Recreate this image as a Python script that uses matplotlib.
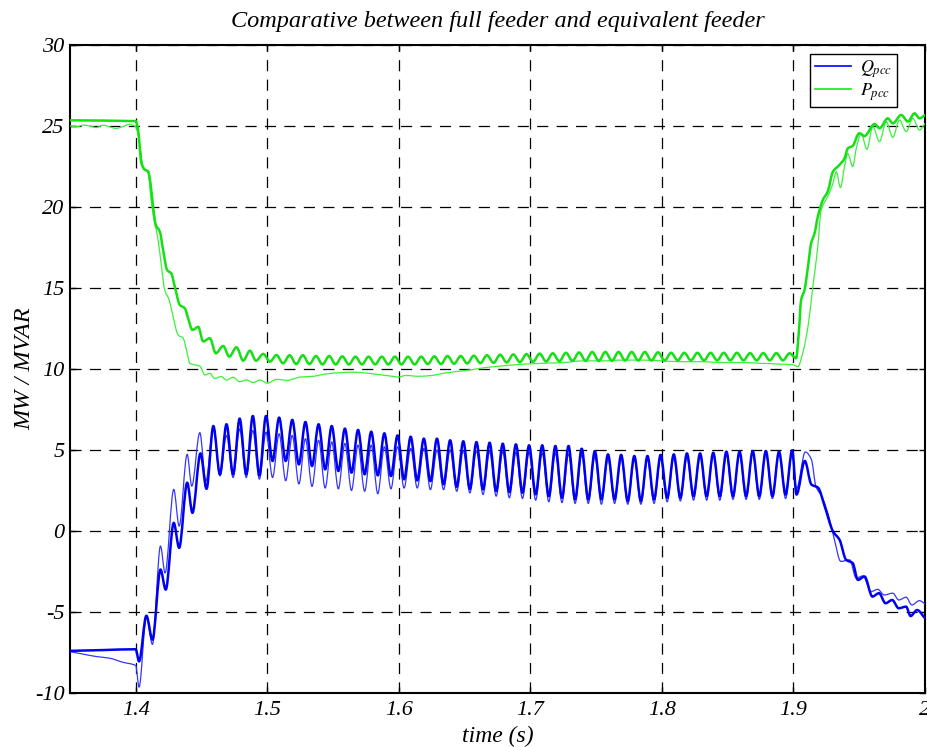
import numpy as np
import matplotlib
matplotlib.use("Agg")
import matplotlib.pyplot as plt
from matplotlib.path import Path
from matplotlib.patches import PathPatch
from matplotlib.lines import Line2D

plt.rcParams['font.family'] = ['Liberation Serif', 'DejaVu Serif']
plt.rcParams['font.style'] = 'italic'
plt.rcParams['mathtext.fontset'] = 'stix'
plt.rcParams['lines.scale_dashes'] = False
plt.rcParams['axes.unicode_minus'] = False

# ---- data (time in s, MW / MVAR) ----
# 100 Hz oscillation: peak / trough values per cycle
q_peak_t0 = 1.459
q_thick_peaks = [6.48, 6.59, 6.94, 7.10, 7.10, 7.00, 6.86, 6.73, 6.59, 6.48,
                 6.32, 6.24, 6.13, 6.03, 5.90, 5.82, 5.70, 5.70, 5.60, 5.54,
                 5.49, 5.45, 5.39, 5.35, 5.29, 5.29, 5.25, 5.25, 5.08, 4.94,
                 4.73, 4.70, 4.63, 4.63, 4.70, 4.73, 4.79, 4.79, 4.83, 4.90,
                 4.90, 4.94, 4.94, 4.90, 4.98]
q_thick_troughs = [3.50, 3.50, 3.50, 3.43, 4.32, 4.32, 4.11, 4.01, 3.80, 3.70,
                   3.60, 3.50, 3.43, 3.39, 3.19, 3.12, 3.08, 2.88, 2.73, 2.60,
                   2.57, 2.46, 2.40, 2.36, 2.26, 2.15, 2.05, 1.95, 1.95, 1.95,
                   1.95, 1.85, 1.85, 1.95, 2.05, 2.05, 2.15, 2.15, 2.15, 2.15,
                   2.15, 2.15, 2.15, 2.25]
q_thin_peaks = [6.40, 5.90, 6.30, 6.20, 6.10, 6.00, 5.90, 5.70, 5.60, 5.50,
                5.40, 5.30, 5.30, 5.20, 5.20, 5.10, 5.10, 5.00, 5.00, 4.95,
                4.95, 4.90, 4.90, 4.85, 4.85, 4.80, 4.80, 4.75, 4.70, 4.60,
                4.50, 4.50, 4.45, 4.45, 4.50, 4.55, 4.60, 4.65, 4.70, 4.75,
                4.80, 4.85, 4.85, 4.85, 4.90]
q_thin_troughs = [3.40, 3.30, 3.30, 3.20, 3.30, 3.10, 2.90, 2.75, 2.65, 2.60,
                  2.50, 2.45, 2.30, 2.60, 2.65, 2.65, 2.55, 2.55, 2.45, 2.35,
                  2.25, 2.15, 2.05, 2.00, 1.90, 1.80, 1.75, 1.70, 1.70, 1.65,
                  1.70, 1.65, 1.65, 1.70, 1.80, 1.85, 1.90, 1.90, 1.90, 1.95,
                  1.95, 1.95, 2.00, 2.00]

p_peak_t0 = 1.507
p_thick_peaks = [10.86, 10.85, 10.85, 10.80, 10.80, 10.78, 10.76, 10.76, 10.76, 10.76,
                 10.76, 10.76, 10.78, 10.80, 10.80, 10.82, 10.85, 10.88, 10.90, 10.92,
                 10.95, 10.97, 11.00, 11.02, 11.05, 11.05, 11.05, 11.05, 11.05, 11.03,
                 11.00, 11.00, 11.00, 11.00, 11.00, 11.00, 10.98, 10.98, 10.98, 10.97]
p_thick_troughs = [10.35, 10.30, 10.30, 10.28, 10.28, 10.28, 10.28, 10.28, 10.28, 10.28,
                   10.28, 10.30, 10.30, 10.32, 10.34, 10.36, 10.38, 10.40, 10.42, 10.44,
                   10.46, 10.48, 10.50, 10.50, 10.50, 10.50, 10.52, 10.52, 10.52, 10.52,
                   10.53, 10.53, 10.53, 10.53, 10.53, 10.53, 10.53, 10.53, 10.53]

# transients (before / after the oscillating stretch)
q_thick_pre_t = [1.35, 1.375, 1.40, 1.4025, 1.4081, 1.4127, 1.4188, 1.4228, 1.4289,
                 1.433, 1.4391, 1.4431, 1.4492, 1.4538]
q_thick_pre_v = [-7.40, -7.35, -7.30, -8.05, -5.23, -6.71, -2.38, -3.62, 0.50,
                 -1.04, 2.98, 1.12, 4.79, 2.60]
q_thick_post_t = [1.9023, 1.9086, 1.9136, 1.9187, 1.9237, 1.930, 1.935, 1.940, 1.945,
                  1.949, 1.954, 1.960, 1.965, 1.970, 1.975, 1.980, 1.9856, 1.989,
                  1.994, 2.0]
q_thick_post_v = [2.25, 4.32, 2.87, 2.67, 1.53, -0.02, -0.54, -1.78, -1.98,
                  -3.02, -2.81, -4.05, -3.84, -4.46, -4.26, -4.77, -4.67, -5.25,
                  -4.88, -5.39]

q_thin_pre_t = [1.35, 1.36, 1.37, 1.38, 1.39, 1.40, 1.4025, 1.4081, 1.4127, 1.4188,
                1.4223, 1.4289, 1.433, 1.4391, 1.4426, 1.4487, 1.4533]
q_thin_pre_v = [-7.45, -7.60, -7.75, -7.85, -8.10, -8.30, -9.64, -5.27, -7.00, -0.93,
                -2.59, 2.57, 0.30, 4.73, 2.77, 6.07, 3.08]
q_thin_post_t = [1.9023, 1.909, 1.9136, 1.917, 1.922, 1.9275, 1.931, 1.936, 1.9427,
                 1.9477, 1.9528, 1.959, 1.964, 1.969, 1.9755, 1.980, 1.9856, 1.990,
                 1.9957, 2.0]
q_thin_post_v = [2.60, 4.88, 4.42, 2.77, 2.05, 0.70, -0.50, -1.88, -1.78,
                 -2.91, -2.77, -3.74, -3.60, -3.95, -3.84, -4.26, -4.09, -4.57,
                 -4.30, -4.50]

p_thick_pre_t = [1.35, 1.40, 1.4018, 1.4043, 1.4069, 1.4094, 1.4112, 1.4132, 1.4152,
                 1.4183, 1.4208, 1.4239, 1.427, 1.4297, 1.4335, 1.4373, 1.4398,
                 1.4431, 1.4475, 1.4513, 1.4563, 1.4609, 1.4665, 1.4711, 1.4766,
                 1.4817, 1.4868, 1.4914, 1.497, 1.502]
p_thick_pre_v = [25.35, 25.30, 24.75, 22.70, 22.30, 22.20, 21.46, 20.00, 18.90,
                 18.48, 17.35, 16.10, 15.90, 15.08, 13.95, 13.75, 13.13,
                 12.41, 12.60, 11.70, 11.90, 10.97, 11.42, 10.76, 11.34,
                 10.51, 11.13, 10.51, 10.93, 10.45]
p_thick_post_t = [1.902, 1.904, 1.9058, 1.9084, 1.911, 1.9134, 1.916, 1.9185, 1.9223,
                  1.926, 1.930, 1.935, 1.9388, 1.9413, 1.945, 1.950, 1.954, 1.9616,
                  1.9654, 1.9717, 1.9755, 1.9819, 1.987, 1.992, 1.9958, 2.0]
p_thick_post_v = [10.66, 12.20, 14.26, 14.88, 16.30, 17.76, 18.37, 19.40, 20.43,
                  20.95, 22.18, 22.60, 23.00, 23.62, 23.77, 24.55, 24.38, 25.12,
                  24.86, 25.47, 25.16, 25.68, 25.27, 25.78, 25.47, 25.68]

p_thin_t = [1.35, 1.355, 1.36, 1.365, 1.37, 1.375, 1.38, 1.385, 1.39, 1.395, 1.40,
            1.403, 1.4056, 1.4094, 1.412, 1.4145, 1.417, 1.4196, 1.422, 1.4254,
            1.4284, 1.4322, 1.436, 1.4386, 1.4411, 1.445, 1.4487, 1.4525, 1.4563,
            1.46, 1.465, 1.469, 1.474, 1.479, 1.4843, 1.4893, 1.4944, 1.50, 1.507,
            1.515, 1.525, 1.535, 1.545, 1.555, 1.565, 1.575, 1.585, 1.595, 1.60,
            1.605, 1.615, 1.625, 1.635, 1.645, 1.655, 1.665, 1.68, 1.695, 1.71,
            1.725, 1.74, 1.755, 1.77, 1.785, 1.80, 1.815, 1.83, 1.845, 1.86, 1.875,
            1.89, 1.90, 1.9033, 1.907, 1.911, 1.9147, 1.9185, 1.921, 1.926, 1.93,
            1.9325, 1.9357, 1.9388, 1.9413, 1.945, 1.948, 1.9515, 1.9558, 1.9603,
            1.9654, 1.9705, 1.9755, 1.9806, 1.9857, 1.9907, 1.9958, 2.0]
p_thin_v = [25.0, 24.95, 25.05, 25.0, 24.9, 25.05, 24.95, 24.85, 24.95, 25.1, 24.95,
            23.9, 22.5, 22.1, 20.2, 19.0, 17.96, 16.3, 14.88, 14.26,
            13.23, 12.1, 11.9, 11.17, 10.35, 10.25, 10.19, 9.63, 9.73,
            9.42, 9.53, 9.32, 9.49, 9.22, 9.32, 9.16, 9.32, 9.12, 9.36,
            9.30, 9.50, 9.55, 9.70, 9.77, 9.80, 9.75, 9.65, 9.55, 9.50,
            9.60, 9.55, 9.60, 9.75, 9.85, 9.95, 10.08, 10.20, 10.30, 10.35,
            10.40, 10.50, 10.50, 10.55, 10.55, 10.50, 10.45, 10.45, 10.40, 10.40, 10.35,
            10.30, 10.25, 10.14, 10.97, 12.6, 15.08, 17.55, 19.8, 20.64, 21.46,
            22.18, 21.2, 22.5, 23.3, 22.5, 23.72, 24.55, 23.56, 24.96,
            24.03, 25.27, 24.3, 25.37, 24.65, 25.47, 24.75, 25.16]

x_ticks = [1.4, 1.5, 1.6, 1.7, 1.8, 1.9, 2.0]
x_tick_labels = ['1.4', '1.5', '1.6', '1.7', '1.8', '1.9', '2']
y_ticks = [-10, -5, 0, 5, 10, 15, 20, 25, 30]


def oscillation(t0, peaks, troughs):
    # alternate peak / trough samples, half a 10 ms period apart
    t, v = [], []
    for k, pk in enumerate(peaks):
        t.append(t0 + 0.01 * k)
        v.append(pk)
        if k < len(troughs):
            t.append(t0 + 0.01 * k + 0.005)
            v.append(troughs[k])
    return t, v


def join(*parts):
    t, v = [], []
    for pt, pv in parts:
        t += list(pt)
        v += list(pv)
    return np.array(t), np.array(v)


def smooth_path(t, v):
    # cubic Hermite (monotone slopes) through the read points
    h = np.diff(t)
    d = np.diff(v) / h
    m = np.zeros(len(t))
    m[0], m[-1] = d[0], d[-1]
    for i in range(1, len(t) - 1):
        if d[i - 1] * d[i] > 0:
            m[i] = 2 * d[i - 1] * d[i] / (d[i - 1] + d[i])
    verts = [(t[0], v[0])]
    codes = [Path.MOVETO]
    for i in range(len(t) - 1):
        verts += [(t[i] + h[i] / 3, v[i] + m[i] * h[i] / 3),
                  (t[i + 1] - h[i] / 3, v[i + 1] - m[i + 1] * h[i] / 3),
                  (t[i + 1], v[i + 1])]
        codes += [Path.CURVE4] * 3
    return Path(verts, codes)


q_thick = join((q_thick_pre_t, q_thick_pre_v),
               oscillation(q_peak_t0, q_thick_peaks, q_thick_troughs),
               (q_thick_post_t, q_thick_post_v))
q_thin = join((q_thin_pre_t, q_thin_pre_v),
              oscillation(q_peak_t0, q_thin_peaks, q_thin_troughs),
              (q_thin_post_t, q_thin_post_v))
p_thick = join((p_thick_pre_t, p_thick_pre_v),
               oscillation(p_peak_t0, p_thick_peaks, p_thick_troughs),
               (p_thick_post_t, p_thick_post_v))
p_thin = join((p_thin_t, p_thin_v))

fig = plt.figure(figsize=(9.28, 7.47), dpi=100)
ax = fig.add_axes([0.0754, 0.0723, 0.9214, 0.8675])

blue_thin, blue_thick = '#3535ff', '#0000f0'
green_thin, green_thick = '#3cf03c', '#14e014'

for (t, v), col, lw in [(p_thin, green_thin, 0.9), (p_thick, green_thick, 1.8),
                        (q_thin, blue_thin, 0.9), (q_thick, blue_thick, 1.8)]:
    ax.add_patch(PathPatch(smooth_path(t, v), facecolor='none', edgecolor=col,
                           lw=lw, capstyle='round', joinstyle='round', zorder=3))

ax.set_xlim(1.35, 2.0)
ax.set_ylim(-10, 30)
ax.set_xticks(x_ticks)
ax.set_xticklabels(x_tick_labels)
ax.set_yticks(y_ticks)
ax.tick_params(direction='in', length=4, width=1, labelsize=16, pad=6,
               top=True, right=True)
ax.tick_params(axis='y', pad=4)
ax.grid(True, color='black', linestyle=(0, (8, 6)), linewidth=0.9)
for s in ax.spines.values():
    s.set_linewidth(1.5)

ax.set_title('Comparative between full feeder and equivalent feeder',
             fontsize=17.5, pad=13)
ax.set_xlabel('time (s)', fontsize=17, labelpad=4)
ax.set_ylabel('MW / MVAR', fontsize=17.5)
ax.yaxis.set_label_coords(-0.041, 0.5)

handles = [Line2D([], [], color='#0000ff', lw=1.2),
           Line2D([], [], color='#11ee11', lw=1.2)]
leg = ax.legend(handles, ['$Q_{pcc}$', '$P_{pcc}$'], loc='upper right',
                bbox_to_anchor=(0.967, 0.986), borderaxespad=0,
                fontsize=13, fancybox=False, framealpha=1, edgecolor='black',
                handlelength=2.0, handletextpad=0.5,
                labelspacing=0.05, borderpad=0.25)
leg.get_frame().set_linewidth(1.0)

fig.savefig('out.png', dpi=100)
